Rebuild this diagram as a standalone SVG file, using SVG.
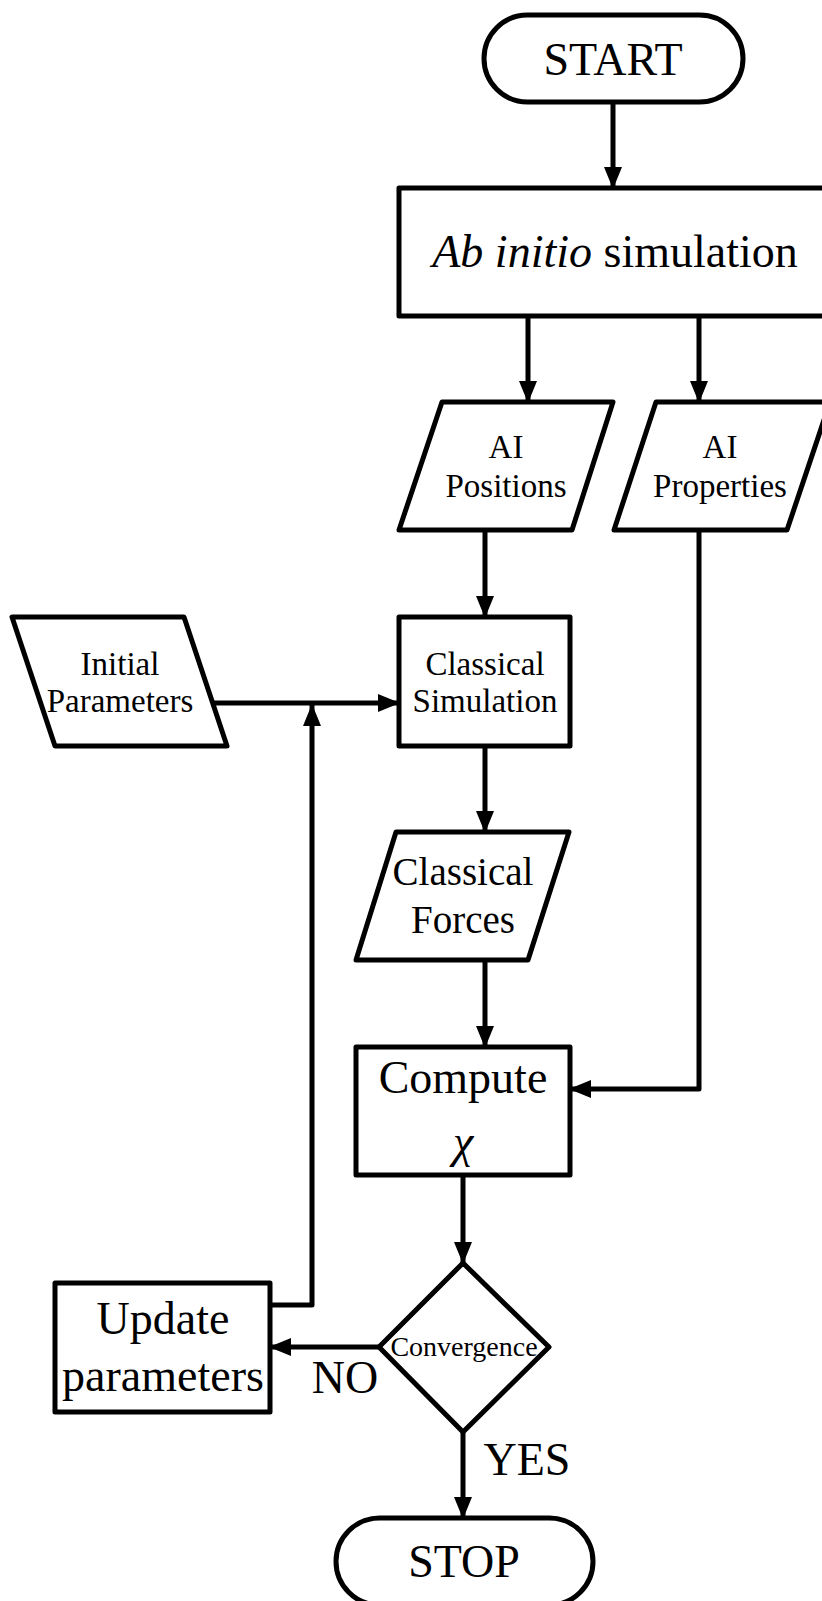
<svg xmlns="http://www.w3.org/2000/svg" width="822" height="1601" viewBox="0 0 822 1601">
<defs>
<marker id="ah" markerUnits="userSpaceOnUse" markerWidth="22" markerHeight="18" refX="21" refY="9" orient="auto">
<path d="M0,0 L22,9 L0,18 z" fill="#000"/>
</marker>
<style>
.s{fill:#fff;stroke:#000;stroke-width:5;stroke-linejoin:round}
.c{fill:none;stroke:#000;stroke-width:5;stroke-linejoin:round}
.t{font-family:"Liberation Serif","DejaVu Serif",serif;fill:#000;text-anchor:middle}
.big{font-size:46px}
.mid{font-size:39px}
.sm{font-size:33px}
</style>
</defs>
<rect width="822" height="1601" fill="#fff"/>
<g id="connectors">
<path class="c" d="M613,102 V188" marker-end="url(#ah)"/>
<path class="c" d="M528,316 V402" marker-end="url(#ah)"/>
<path class="c" d="M699,316 V402" marker-end="url(#ah)"/>
<path class="c" d="M485,530 V617" marker-end="url(#ah)"/>
<path class="c" d="M214,703 H399" marker-end="url(#ah)"/>
<path class="c" d="M270,1305 H312 V705" marker-end="url(#ah)"/>
<path class="c" d="M485,746 V832" marker-end="url(#ah)"/>
<path class="c" d="M485,960 V1047" marker-end="url(#ah)"/>
<path class="c" d="M699,530 V1089 H570" marker-end="url(#ah)"/>
<path class="c" d="M463,1174 V1263" marker-end="url(#ah)"/>
<path class="c" d="M379,1347 H270" marker-end="url(#ah)"/>
<path class="c" d="M463,1432 V1518" marker-end="url(#ah)"/>
</g>
<g id="start">
<rect class="s" x="484" y="15" width="259" height="87" rx="43.5"/>
<text class="t big" x="613" y="75">START</text>
</g>
<g id="abinitio">
<rect class="s" x="399" y="188" width="432" height="128"/>
<text class="t big" x="615" y="267"><tspan font-style="italic">Ab initio</tspan> simulation</text>
</g>
<g id="aipositions">
<polygon class="s" points="442,402 613,402 572,530 399,530"/>
<text class="t sm" x="506" y="458">AI</text>
<text class="t sm" x="506" y="497">Positions</text>
</g>
<g id="aiproperties">
<polygon class="s" points="656,402 830,402 787,530 614,530"/>
<text class="t sm" x="720" y="458">AI</text>
<text class="t sm" x="720" y="497">Properties</text>
</g>
<g id="initialparams">
<polygon class="s" points="12,617 184,617 227,746 55,746"/>
<text class="t sm" x="120" y="675">Initial</text>
<text class="t sm" x="120" y="712">Parameters</text>
</g>
<g id="classicalsim">
<rect class="s" x="399" y="617" width="171" height="129"/>
<text class="t sm" x="485" y="675">Classical</text>
<text class="t sm" x="485" y="712">Simulation</text>
</g>
<g id="classicalforces">
<polygon class="s" points="396,832 569,832 528,960 356,960"/>
<text class="t mid" x="463" y="885">Classical</text>
<text class="t mid" x="463" y="933">Forces</text>
</g>
<g id="compute">
<rect class="s" x="356" y="1047" width="214" height="128"/>
<text class="t big" x="463" y="1093">Compute</text>
<text class="t big" x="463" y="1157" font-style="italic">χ</text>
</g>
<g id="convergence">
<polygon class="s" points="463,1263 549,1347 463,1432 379,1347"/>
<text class="t" x="464" y="1356" font-size="28">Convergence</text>
</g>
<g id="update">
<rect class="s" x="55" y="1283" width="215" height="129"/>
<text class="t big" x="163" y="1334">Update</text>
<text class="t big" x="163" y="1391">parameters</text>
</g>
<g id="stop">
<rect class="s" x="336" y="1518" width="257" height="87" rx="43.5"/>
<text class="t big" x="464" y="1577">STOP</text>
</g>
<g id="labels">
<text class="t big" x="345" y="1393">NO</text>
<text class="t big" x="527" y="1475">YES</text>
</g>
</svg>
